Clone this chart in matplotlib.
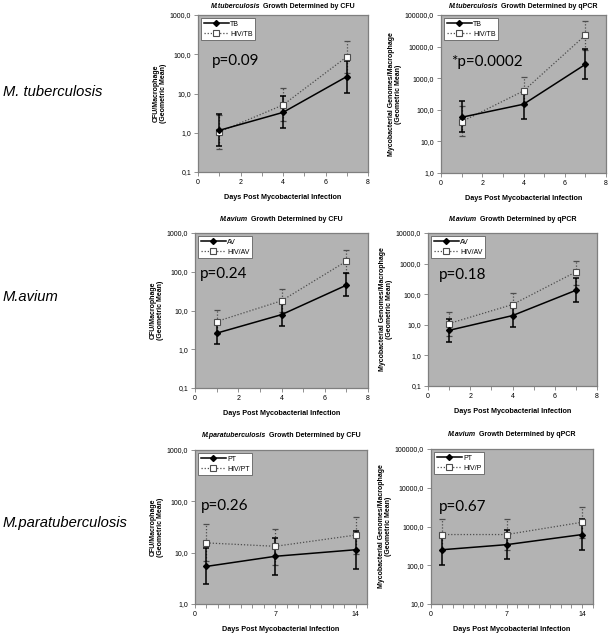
import matplotlib
matplotlib.use("Agg")
import matplotlib.pyplot as plt
from matplotlib.ticker import FixedLocator, FuncFormatter, MultipleLocator, NullLocator
from matplotlib.offsetbox import TextArea, HPacker, AnchoredOffsetbox
from matplotlib.transforms import offset_copy

plt.rcParams['font.family'] = ['Liberation Sans', 'DejaVu Sans']

# ---------------- data ----------------
days_short = [1, 4, 7]
days_long = [1, 7, 14]

tb_cfu = [1.15, 3.3, 27]
tb_cfu_lo = [0.45, 1.35, 10.4]
tb_cfu_hi = [2.95, 8.7, 68]
hivtb_cfu = [1.05, 5.1, 86]
hivtb_cfu_lo = [0.39, 2.0, 34]
hivtb_cfu_hi = [2.9, 13.5, 224]

tb_qpcr = [58, 150, 2740]
tb_qpcr_lo = [19.3, 50, 950]
tb_qpcr_hi = [185, 385, 8200]
hivtb_qpcr = [42, 395, 23000]
hivtb_qpcr_lo = [15, 140, 8000]
hivtb_qpcr_hi = [128, 1100, 66000]

av_cfu = [2.6, 7.8, 45]
av_cfu_lo = [1.34, 4.0, 23]
av_cfu_hi = [4.9, 14.7, 91]
hivav_cfu = [5.2, 17.8, 187]
hivav_cfu_lo = [2.5, 9.0, 91]
hivav_cfu_hi = [10.5, 35, 370]

av_qpcr = [6.6, 20, 134]
av_qpcr_lo = [2.7, 8.5, 55]
av_qpcr_hi = [16, 52, 340]
hivav_qpcr = [11, 46, 535]
hivav_qpcr_lo = [4.2, 19, 205]
hivav_qpcr_hi = [26, 110, 1200]

pt_cfu = [5.4, 8.5, 11.4]
pt_cfu_lo = [2.4, 3.7, 4.8]
pt_cfu_hi = [12.3, 19.4, 26]
hivpt_cfu = [15.5, 13.3, 22]
hivpt_cfu_lo = [6.8, 5.8, 9.6]
hivpt_cfu_hi = [36, 29.5, 50]

pt_qpcr = [251, 340, 620]
pt_qpcr_lo = [103, 145, 250]
pt_qpcr_hi = [650, 830, 1580]
hivp_qpcr = [620, 620, 1290]
hivp_qpcr_lo = [250, 250, 510]
hivp_qpcr_hi = [1520, 1520, 3250]

p_values = ["p=0.09", "*p=0.0002", "p=0.24", "p=0.18", "p=0.26", "p=0.67"]
row_labels = ["M. tuberculosis", "M.avium", "M.paratuberculosis"]
title_species = ["M.tuberculosis", "M.tuberculosis", "M.avium", "M.avium",
                 "M.paratuberculosis", "M.avium"]
title_methods = ["Growth Determined by CFU", "Growth Determined by qPCR",
                 "Growth Determined by CFU", "Growth Determined by qPCR",
                 "Growth Determined by CFU", "Growth Determined by qPCR"]
legend_a = ["TB", "TB", "AV", "AV", "PT", "PT"]
legend_b = ["HIV/TB", "HIV/TB", "HIV/AV", "HIV/AV", "HIV/PT", "HIV/P"]
ylabel_cfu = "CFU/Macrophage\n(Geometric Mean)"
ylabel_qpcr = "Mycobacterial Genomes/Macrophage\n(Geometric Mean)"
xlabel = "Days Post Mycobacterial Infection"

# ---------------- layout ----------------
W, H = 608, 633
fig = plt.figure(figsize=(W / 100, H / 100), dpi=100)
fig.patch.set_facecolor('white')


def px_axes(x0, y0, x1, y1):
    return fig.add_axes([x0 / W, 1 - y1 / H, (x1 - x0) / W, (y1 - y0) / H])


panels = [
    dict(box=(198, 15, 368, 172), x=days_short, xlim=(0, 8), xmaj=2,
         ylim=(0.1, 1000), a=(tb_cfu, tb_cfu_lo, tb_cfu_hi),
         b=(hivtb_cfu, hivtb_cfu_lo, hivtb_cfu_hi), ylabel=ylabel_cfu,
         ptxt=(0.08, 0.71), tgap=5),
    dict(box=(441, 15, 606, 173), x=days_short, xlim=(0, 8), xmaj=2,
         ylim=(1, 100000), a=(tb_qpcr, tb_qpcr_lo, tb_qpcr_hi),
         b=(hivtb_qpcr, hivtb_qpcr_lo, hivtb_qpcr_hi), ylabel=ylabel_qpcr,
         ptxt=(0.06, 0.70), tgap=5),
    dict(box=(195, 233, 368, 388), x=days_short, xlim=(0, 8), xmaj=2,
         ylim=(0.1, 1000), a=(av_cfu, av_cfu_lo, av_cfu_hi),
         b=(hivav_cfu, hivav_cfu_lo, hivav_cfu_hi), ylabel=ylabel_cfu,
         ptxt=(0.03, 0.735), tgap=10),
    dict(box=(428, 233, 597, 386), x=days_short, xlim=(0, 8), xmaj=2,
         ylim=(0.1, 10000), a=(av_qpcr, av_qpcr_lo, av_qpcr_hi),
         b=(hivav_qpcr, hivav_qpcr_lo, hivav_qpcr_hi), ylabel=ylabel_qpcr,
         ptxt=(0.065, 0.725), tgap=10),
    dict(box=(195, 450, 367, 604), x=days_long, xlim=(0, 15), xmaj=7,
         ylim=(1, 1000), a=(pt_cfu, pt_cfu_lo, pt_cfu_hi),
         b=(hivpt_cfu, hivpt_cfu_lo, hivpt_cfu_hi), ylabel=ylabel_cfu,
         ptxt=(0.035, 0.636), tgap=11),
    dict(box=(431, 449, 593, 604), x=days_long, xlim=(0, 15), xmaj=7,
         ylim=(10, 100000), a=(pt_qpcr, pt_qpcr_lo, pt_qpcr_hi),
         b=(hivp_qpcr, hivp_qpcr_lo, hivp_qpcr_hi), ylabel=ylabel_qpcr,
         ptxt=(0.05, 0.626), tgap=11),
]

bg = '#b3b3b3'
spine_c = '#7f7f7f'
hiv_c = '#4d4d4d'
fmt = FuncFormatter(lambda v, pos: f"{v:.1f}".replace('.', ','))

for i, p in enumerate(panels):
    ax = px_axes(*p['box'])
    ax.set_facecolor(bg)
    for s in ax.spines.values():
        s.set_color(spine_c)
        s.set_linewidth(0.9)
    ax.set_yscale('log')
    ax.set_xlim(*p['xlim'])
    ax.set_ylim(*p['ylim'])
    lo, hi = p['ylim']
    dec = []
    v = lo
    while v <= hi * 1.0001:
        dec.append(v)
        v *= 10
    ax.yaxis.set_major_locator(FixedLocator(dec))
    ax.yaxis.set_major_formatter(fmt)
    ax.yaxis.set_minor_locator(NullLocator())
    ax.xaxis.set_major_locator(MultipleLocator(p['xmaj']))
    ax.xaxis.set_minor_locator(MultipleLocator(1))
    ax.tick_params(axis='both', which='both', direction='out', color=spine_c,
                   labelsize=5, pad=2, width=0.6)
    ax.tick_params(axis='both', which='major', length=3)
    ax.tick_params(axis='x', which='minor', length=3)

    xs = p['x']
    m, l, h = p['a']
    mb, lb, hb = p['b']

    # HIV series (dotted) drawn first
    eb = ax.errorbar(xs, mb, yerr=[[a - b for a, b in zip(mb, lb)],
                                   [b - a for a, b in zip(mb, hb)]],
                     fmt='none', ecolor=hiv_c, elinewidth=0.9, capsize=2.5,
                     capthick=0.9, zorder=2)
    for lc in eb[2]:
        lc.set_linestyle((0, (1, 1.5)))
    ln_b, = ax.plot(xs, mb, linestyle=(0, (1, 1.5)), color=hiv_c, lw=0.9,
                    marker='s', markersize=4, markerfacecolor='white',
                    markeredgecolor=hiv_c, markeredgewidth=0.8, zorder=4)

    ax.errorbar(xs, m, yerr=[[a - b for a, b in zip(m, l)],
                             [b - a for a, b in zip(m, h)]],
                fmt='none', ecolor='black', elinewidth=1.1, capsize=2.5,
                capthick=1.1, zorder=3)
    ln_a, = ax.plot(xs, m, linestyle='-', color='black', lw=1.1,
                    marker='D', markersize=3, markerfacecolor='black',
                    markeredgecolor='black', zorder=5)

    leg = ax.legend([ln_a, ln_b], [legend_a[i], legend_b[i]], loc='upper left',
                    fontsize=5, frameon=True, fancybox=False, framealpha=1,
                    edgecolor='#606060', handlelength=3.6, handletextpad=0.2,
                    labelspacing=0.45, borderpad=0.35, borderaxespad=0.45)
    leg.get_frame().set_linewidth(0.6)

    ax.text(p['ptxt'][0], p['ptxt'][1], p_values[i], transform=ax.transAxes,
            fontsize=11, va='center', ha='left', family=['Lato', 'DejaVu Sans'])

    ax.set_ylabel(p['ylabel'], fontsize=5, fontweight='bold', labelpad=2,
                  linespacing=1.1)
    ax.set_xlabel(xlabel, fontsize=5.2, fontweight='bold', labelpad=6)

    t1 = TextArea(title_species[i], textprops=dict(fontsize=5, fontweight='bold',
                                                   fontstyle='italic'))
    t2 = TextArea(title_methods[i], textprops=dict(fontsize=5, fontweight='bold'))
    box = HPacker(children=[t1, t2], align='baseline', pad=0, sep=2)
    ab = AnchoredOffsetbox(loc='lower center', child=box, pad=0, frameon=False,
                           bbox_to_anchor=(0.5, 1.0),
                           bbox_transform=offset_copy(ax.transAxes, fig=fig,
                                                      x=0, y=p['tgap'],
                                                      units='dots'),
                           borderpad=0)
    ax.add_artist(ab)

row_y = [92, 297, 523]
for lab, y in zip(row_labels, row_y):
    fig.text(3 / W, 1 - y / H, lab, fontsize=10.6, fontstyle='italic',
             va='center', ha='left')

fig.savefig('out.png', dpi=100, facecolor='white')
